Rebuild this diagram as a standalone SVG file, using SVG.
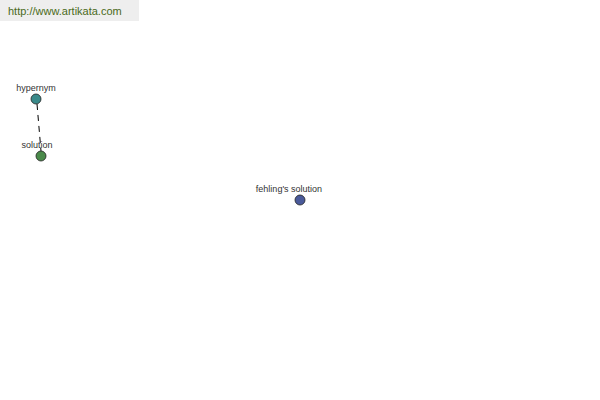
<svg xmlns="http://www.w3.org/2000/svg" width="600" height="400" viewBox="0 0 600 400">
<style>
.lbl{font-family:"Liberation Sans",Arial,sans-serif;font-size:9px;fill:#333;text-anchor:middle}
.nd{stroke:#222;stroke-width:0.8}
</style>
<rect width="600" height="400" fill="#fff"/>
<rect x="0" y="0" width="139" height="21" fill="#eeeeee"/>
<text x="8" y="15" font-family="'Liberation Sans',Arial,sans-serif" font-size="11" fill="#4a6a1a">http://www.artikata.com</text>
<g id="connectors">
<line x1="37" y1="104" x2="41" y2="151" stroke="#000" stroke-width="1" stroke-dasharray="6,5"/>
</g>
<g id="hypernym">
<circle class="nd" cx="36" cy="99" r="5" fill="#3a8a8a"/>
<text class="lbl" x="36" y="91">hypernym</text>
</g>
<g id="solution">
<circle class="nd" cx="41" cy="156" r="5" fill="#4a8a4a"/>
<text class="lbl" x="37" y="148">solution</text>
</g>
<g id="fehlings">
<circle class="nd" cx="300" cy="200" r="5" fill="#4a5a9a"/>
<text class="lbl" x="289" y="192">fehling's solution</text>
</g>
</svg>
